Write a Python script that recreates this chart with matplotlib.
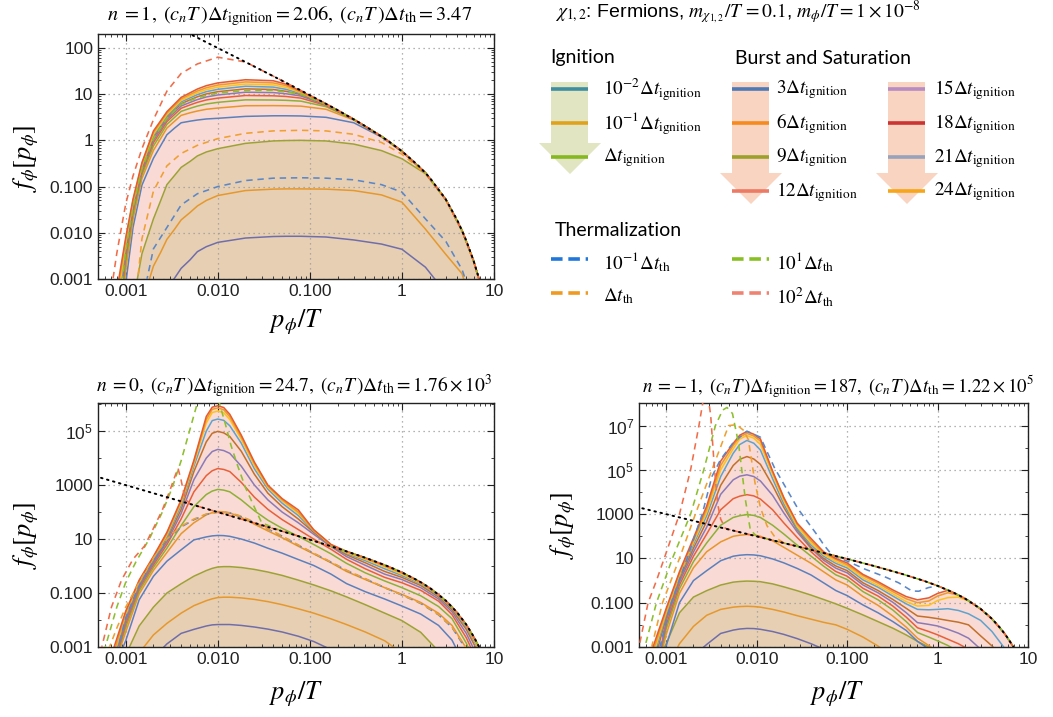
import numpy as np
import matplotlib
matplotlib.use('Agg')
import matplotlib.pyplot as plt
from matplotlib.patches import Polygon
from matplotlib.ticker import FixedLocator, FixedFormatter, NullFormatter

plt.rcParams['font.family'] = ['Liberation Sans', 'DejaVu Sans']
plt.rcParams['mathtext.fontset'] = 'stix'

# ---------------- Bose-Einstein reference (black dotted) ----------------
p_be = [0.0004, 0.0005, 0.001, 0.002, 0.005, 0.01, 0.02, 0.05, 0.1, 0.2, 0.4, 0.7, 1.0, 1.5, 2.0, 3.0, 4.0, 5.0, 6.0, 7.0, 8.0, 10.0]
f_be = [2500, 2000, 999.5, 499.5, 199.5, 99.5, 49.5, 19.5, 9.51, 4.52, 2.03, 0.987, 0.582, 0.287, 0.157, 0.0524, 0.0187, 0.00678, 0.00248, 0.000913, 0.000336, 4.5e-5]

# ---------------- Panel A : n = 1 ----------------
pA = [0.0008, 0.001, 0.0012, 0.0015, 0.002, 0.0024, 0.0028, 0.0034, 0.004, 0.005, 0.006, 0.0075, 0.01, 0.02, 0.04, 0.055, 0.08, 0.15, 0.3, 0.6, 1.0, 1.8, 3.0, 4.5, 6.0, 7.5]
A_ign_1e2 = [1e-5, 1e-5, 1e-5, 1e-5, 1e-4, 2.5e-4, 6e-4, 0.00105, 0.0017, 0.0026, 0.0039, 0.005, 0.0062, 0.0077, 0.0083, 0.0084, 0.0084, 0.0081, 0.007, 0.0057, 0.0044, 0.0018, 5e-4, 1e-4, 1e-5, 1e-5]
A_ign_1e1 = [1e-5, 1e-5, 1e-5, 3e-4, 0.0019, 0.0038, 0.0072, 0.012, 0.019, 0.0275, 0.038, 0.05, 0.064, 0.082, 0.088, 0.089, 0.089, 0.088, 0.082, 0.066, 0.046, 0.012, 0.0034, 0.0013, 2e-4, 1e-5]
A_ign_1 = [1e-5, 1e-5, 3e-4, 0.0035, 0.02, 0.05, 0.11, 0.175, 0.26, 0.35, 0.46, 0.56, 0.66, 0.86, 0.97, 0.99, 1.0, 0.97, 0.83, 0.6, 0.4, 0.19, 0.052, 0.0111, 0.00246, 5.4e-4]
A_b3 = [1e-5, 8e-4, 0.013, 0.107, 0.41, 0.77, 1.32, 1.85, 2.4, 2.6, 2.75, 2.9, 3.0, 3.3, 3.4, 3.4, 3.37, 3.15, 2.4, 1.18, 0.575, 0.197, 0.0523, 0.0112, 0.00248, 5.5e-4]
A_b6 = [2e-5, 0.00155, 0.0195, 0.149, 0.607, 1.1, 1.84, 2.6, 3.47, 3.95, 4.31, 4.7, 5.0, 5.61, 5.64, 5.6, 5.5, 4.7, 2.75, 1.21, 0.58, 0.198, 0.0524, 0.0112, 0.00248, 5.5e-4]
A_b9 = [3e-5, 0.00224, 0.0245, 0.178, 0.755, 1.34, 2.21, 3.15, 4.24, 4.93, 5.51, 6.12, 6.64, 7.52, 7.46, 7.35, 7.05, 5.35, 2.81, 1.22, 0.582, 0.198, 0.0524, 0.0112, 0.00248, 5.5e-4]
A_b12 = [5e-5, 0.00295, 0.029, 0.204, 0.89, 1.56, 2.54, 3.65, 4.94, 5.85, 6.64, 7.48, 8.2, 9.35, 9.2, 8.9, 8.2, 5.67, 2.83, 1.22, 0.582, 0.198, 0.0524, 0.0112, 0.00248, 5.5e-4]
A_b15 = [7e-5, 0.00363, 0.033, 0.225, 1.01, 1.75, 2.82, 4.07, 5.53, 6.62, 7.62, 8.68, 9.6, 11.0, 10.8, 10.2, 9.1, 5.85, 2.84, 1.22, 0.582, 0.198, 0.0524, 0.0112, 0.00248, 5.5e-4]
A_b18 = [1e-4, 0.00447, 0.0376, 0.25, 1.14, 1.96, 3.13, 4.53, 6.2, 7.52, 8.76, 10.1, 11.3, 13.0, 12.6, 11.5, 9.8, 5.96, 2.85, 1.22, 0.582, 0.198, 0.0524, 0.0112, 0.00248, 5.5e-4]
A_b21 = [1.5e-4, 0.00525, 0.0415, 0.27, 1.25, 2.13, 3.39, 4.94, 6.78, 8.3, 9.75, 11.3, 12.7, 14.8, 14.2, 12.7, 10.3, 6.03, 2.86, 1.22, 0.582, 0.198, 0.0524, 0.0112, 0.00248, 5.5e-4]
A_b24 = [2.5e-4, 0.006, 0.0453, 0.289, 1.36, 2.3, 3.63, 5.3, 7.31, 9.0, 10.7, 12.5, 14.2, 16.5, 15.8, 14.0, 10.7, 6.08, 2.86, 1.22, 0.582, 0.198, 0.0524, 0.0112, 0.00248, 5.5e-4]
A_b27 = [4e-4, 0.0069, 0.0493, 0.309, 1.48, 2.48, 3.89, 5.7, 7.89, 9.8, 11.7, 13.75, 15.7, 18.4, 17.5, 15.3, 11.0, 6.1, 2.86, 1.22, 0.582, 0.198, 0.0524, 0.0112, 0.00248, 5.5e-4]
A_b30 = [5.6e-4, 0.0079, 0.0537, 0.331, 1.6, 2.67, 4.17, 6.14, 8.51, 10.7, 12.9, 15.25, 17.5, 20.5, 19.5, 16.5, 11.6, 6.15, 2.86, 1.22, 0.582, 0.198, 0.0524, 0.0112, 0.00248, 5.5e-4]
pA_th = [0.0007, 0.0008, 0.001, 0.0012, 0.0015, 0.002, 0.0028, 0.004, 0.006, 0.01, 0.02, 0.04, 0.08, 0.15, 0.3, 0.6, 1.0, 1.8, 3.0, 4.5, 6.0, 7.5]
A_th_1e1 = [1e-5, 1e-5, 1e-5, 1e-5, 3e-4, 0.0045, 0.013, 0.04, 0.07, 0.1, 0.135, 0.152, 0.155, 0.152, 0.14, 0.11, 0.076, 0.02, 0.0065, 0.0016, 3e-4, 1e-5]
A_th_1 = [1e-5, 1e-5, 1e-5, 1e-4, 0.0074, 0.08, 0.28, 0.52, 0.78, 1.09, 1.42, 1.6, 1.65, 1.6, 1.35, 0.9, 0.5, 0.19, 0.052, 0.0111, 0.00246, 5.4e-4]
A_th_10 = [1e-5, 1e-4, 0.004, 0.035, 0.24, 1.1, 3.0, 6.0, 8.4, 10.6, 12.0, 12.1, 10.0, 5.95, 2.85, 1.22, 0.582, 0.198, 0.0524, 0.0112, 0.00248, 5.5e-4]
A_th_100 = [6e-4, 0.0036, 0.042, 0.17, 0.66, 2.8, 11.6, 28, 45, 63, 49.5, 24.5, 12.0, 6.18, 2.86, 1.22, 0.582, 0.198, 0.0524, 0.0112, 0.00248, 5.5e-4]

# ---------------- Panel B : n = 0 ----------------
pB = [0.0007, 0.001, 0.0014, 0.002, 0.0028, 0.004, 0.0055, 0.0075, 0.0087, 0.01, 0.0116, 0.0135, 0.018, 0.025, 0.035, 0.05, 0.075, 0.11, 0.17, 0.25, 0.4, 0.65, 1.0, 1.6, 2.5, 3.5, 5.0, 6.5, 8.0]
B_ign_1e2 = [1e-5, 1e-5, 1e-5, 4e-4, 0.0013, 0.0032, 0.0045, 0.006, 0.0066, 0.0068, 0.0068, 0.0068, 0.0063, 0.0055, 0.0046, 0.0036, 0.0025, 0.0016, 8e-4, 3e-4, 1e-5, 1e-5, 1e-5, 1e-5, 1e-5, 1e-5, 1e-5, 1e-5, 1e-5]
B_ign_1e1 = [1e-5, 1e-4, 6e-4, 0.0028, 0.0075, 0.018, 0.034, 0.052, 0.061, 0.068, 0.07, 0.07, 0.066, 0.058, 0.048, 0.037, 0.026, 0.018, 0.011, 0.0068, 0.0036, 0.0017, 6e-4, 1e-4, 1e-5, 1e-5, 1e-5, 1e-5, 1e-5]
B_ign_1 = [1e-5, 5e-4, 0.006, 0.03, 0.1, 0.22, 0.42, 0.68, 0.82, 0.92, 0.95, 0.95, 0.88, 0.75, 0.6, 0.45, 0.3, 0.2, 0.12, 0.072, 0.037, 0.018, 0.0095, 0.0035, 7e-4, 1e-4, 1e-5, 1e-5, 1e-5]
B_b3 = [1e-4, 0.0017, 0.056, 0.417, 1.51, 4.0, 9.3, 12.0, 13.1, 13.6, 13.4, 12.6, 10, 7.1, 4.57, 3.0, 1.74, 1.05, 0.5, 0.224, 0.112, 0.06, 0.033, 0.0166, 0.0063, 0.0018, 1.6e-4, 1e-5, 1e-5]
B_b6 = [1e-4, 0.0036, 0.093, 0.69, 3.16, 15.8, 40, 79, 95, 105, 101, 93, 63, 35.5, 20, 11.2, 5.4, 2.82, 1.32, 0.63, 0.316, 0.158, 0.089, 0.0447, 0.0178, 0.0063, 9e-4, 1e-4, 1e-5]
B_b9 = [1e-4, 0.0054, 0.12, 0.89, 4.57, 31.6, 158, 447, 600, 692, 650, 562, 282, 112, 50, 25, 12.6, 6.3, 2.82, 1.26, 0.56, 0.28, 0.158, 0.079, 0.0316, 0.0112, 0.0014, 2e-4, 1e-5]
B_b12 = [1e-4, 0.0072, 0.148, 1.1, 6.2, 56, 560, 2240, 3400, 4100, 3800, 3160, 1260, 355, 126, 52.5, 22.4, 10, 4.17, 1.78, 0.79, 0.38, 0.24, 0.126, 0.05, 0.0158, 0.0022, 3.2e-4, 1e-5]
B_b15 = [1.3e-4, 0.0091, 0.17, 1.29, 7.8, 89, 1580, 1.0e4, 1.75e4, 2.1e4, 1.9e4, 1.5e4, 5000, 1000, 282, 100, 40, 15.1, 5.25, 2.24, 1.07, 0.5, 0.316, 0.158, 0.06, 0.02, 0.0032, 5e-4, 1e-4]
B_b18 = [1.6e-4, 0.0112, 0.2, 1.51, 9.5, 126, 3160, 4.0e4, 8.3e4, 9.8e4, 8.6e4, 6.3e4, 1.78e4, 2510, 500, 158, 55, 17.8, 5.6, 2.63, 1.32, 0.63, 0.38, 0.19, 0.071, 0.024, 0.0045, 8e-4, 1.3e-4]
B_b21 = [2e-4, 0.0135, 0.224, 1.74, 11.5, 178, 5000, 1.0e5, 2.45e5, 2.8e5, 2.5e5, 1.58e5, 3.55e4, 3980, 708, 214, 74, 20, 5.9, 2.95, 1.58, 0.79, 0.447, 0.219, 0.079, 0.028, 0.0056, 0.00112, 2e-4]
B_b24 = [2.5e-4, 0.0166, 0.251, 2.0, 14.1, 224, 6300, 2.0e5, 4.9e5, 5.5e5, 4.8e5, 2.7e5, 5.0e4, 5250, 832, 263, 89, 20.9, 6.0, 3.16, 1.78, 0.93, 0.5, 0.234, 0.085, 0.030, 0.0063, 0.00126, 2.5e-4]
B_b27 = [3e-4, 0.019, 0.275, 2.14, 15.8, 251, 7240, 2.7e5, 6.4e5, 7.24e5, 6.2e5, 3.4e5, 6.0e4, 6300, 912, 288, 100, 21.4, 6.17, 3.39, 1.91, 1.0, 0.55, 0.245, 0.087, 0.031, 0.0066, 0.0014, 3.2e-4]
B_b30 = [5e-4, 0.0214, 0.302, 2.29, 17.8, 288, 8300, 3.5e5, 7.7e5, 8.7e5, 7.5e5, 4.2e5, 7.1e4, 7100, 1000, 316, 120, 22.4, 6.3, 3.52, 2.03, 1.09, 0.582, 0.253, 0.0894, 0.0311, 0.00678, 0.0015, 3.36e-4]
B_th_1e1 = [1e-4, 0.012, 0.2, 1.6, 9, 28, 52, 82, 92, 98, 97, 93, 68, 41, 23.5, 12.8, 5.9, 2.95, 1.38, 0.69, 0.335, 0.158, 0.084, 0.041, 0.0155, 0.0053, 8e-4, 1e-4, 1e-5]
pB_th1 = [0.00065, 0.0008, 0.001, 0.0014, 0.002, 0.0028, 0.004, 0.0055, 0.0075, 0.01, 0.0135, 0.018, 0.025, 0.035, 0.05, 0.075, 0.11, 0.17, 0.25, 0.4, 0.65, 1.0, 1.6, 2.5, 3.5, 5.0, 6.5]
B_th_1 = [8e-4, 0.005, 0.03, 0.25, 2.0, 10, 30, 55, 85, 100, 95, 70, 42, 24, 13, 6.0, 3.0, 1.4, 0.7, 0.34, 0.16, 0.085, 0.042, 0.016, 0.0055, 9e-4, 1e-4]
pB_th10 = [0.00055, 0.0006, 0.0008, 0.001, 0.0013, 0.0018, 0.0025, 0.0032, 0.004, 0.005, 0.006, 0.0075, 0.009, 0.0104, 0.012, 0.0139, 0.0165, 0.02, 0.025, 0.03, 0.05, 0.1, 0.2, 0.4, 0.7, 1.0, 1.5, 2.0, 3.0, 4.0, 5.0, 6.0, 7.0]
B_th_10 = [1e-4, 0.001, 0.03, 0.25, 1.5, 10, 100, 800, 8000, 1.2e5, 1.1e6, 4e6, 3e6, 1.1e6, 2e5, 3e4, 5000, 800, 150, 40, 19.5, 9.51, 4.52, 2.03, 0.987, 0.582, 0.287, 0.157, 0.0524, 0.0187, 0.00678, 0.00248, 0.000913]
pB_th100 = [0.0005, 0.00055, 0.0007, 0.0009, 0.0012, 0.0016, 0.002, 0.0025, 0.003, 0.0034, 0.0037, 0.004, 0.0044, 0.005, 0.007, 0.01, 0.02, 0.05, 0.1, 0.2, 0.4, 0.7, 1.0, 1.5, 2.0, 3.0, 4.0, 5.0, 6.0, 7.0]
B_th_100 = [1e-4, 0.001, 0.03, 0.3, 1.8, 5.5, 25, 120, 600, 2000, 4200, 1500, 320, 200, 143, 99.5, 49.5, 19.5, 9.51, 4.52, 2.03, 0.987, 0.582, 0.287, 0.157, 0.0524, 0.0187, 0.00678, 0.00248, 0.000913]

# ---------------- Panel C : n = -1 ----------------
pC = [0.0005, 0.0007, 0.001, 0.0014, 0.002, 0.0028, 0.004, 0.0055, 0.0065, 0.0078, 0.0093, 0.011, 0.015, 0.02, 0.028, 0.04, 0.055, 0.075, 0.1, 0.15, 0.22, 0.32, 0.45, 0.6, 0.8, 1.0, 1.3, 1.7, 2.2, 3.0, 4.0, 5.5, 7.0, 8.6]
C_ign_1e2 = [1e-5, 1e-5, 1e-5, 1e-5, 4e-4, 0.0013, 0.0041, 0.0058, 0.0065, 0.0069, 0.0068, 0.0063, 0.005, 0.0037, 0.0024, 0.0014, 8e-4, 3e-4, 1e-5, 1e-5, 1e-5, 1e-5, 1e-5, 1e-5, 1e-5, 1e-5, 1e-5, 1e-5, 1e-5, 1e-5, 1e-5, 1e-5, 1e-5, 1e-5]
C_ign_1e1 = [1e-5, 1e-5, 1e-4, 0.0014, 0.0085, 0.027, 0.05, 0.063, 0.067, 0.069, 0.067, 0.063, 0.05, 0.038, 0.026, 0.018, 0.013, 0.01, 0.0063, 0.0028, 0.0011, 3e-4, 1e-5, 1e-5, 1e-5, 1e-5, 1e-5, 1e-5, 1e-5, 1e-5, 1e-5, 1e-5, 1e-5, 1e-5]
C_ign_1 = [1e-5, 1e-4, 0.0014, 0.035, 0.18, 0.35, 0.63, 0.85, 0.91, 0.95, 0.93, 0.89, 0.71, 0.52, 0.35, 0.22, 0.14, 0.089, 0.056, 0.028, 0.014, 0.0071, 0.0035, 0.0018, 0.001, 4e-4, 1e-4, 1e-5, 1e-5, 1e-5, 1e-5, 1e-5, 1e-5, 1e-5]
C_b3 = [1e-5, 1e-5, 0.00115, 0.1, 1.0, 2.8, 7.9, 12.6, 14.0, 14.8, 14.4, 13.2, 9.5, 6.3, 3.55, 1.78, 0.79, 0.355, 0.21, 0.079, 0.035, 0.0141, 0.0056, 0.0018, 8e-4, 3e-4, 1e-5, 1e-5, 1e-5, 1e-5, 1e-5, 1e-5, 1e-5, 1e-5]
C_b6 = [1e-5, 1e-5, 0.0037, 0.263, 3.8, 20, 56, 100, 112, 120, 115, 100, 63, 31.6, 14.1, 6.0, 2.5, 1.07, 0.63, 0.19, 0.076, 0.025, 0.0079, 0.0025, 0.00117, 6.3e-4, 1e-4, 1e-5, 1e-5, 1e-5, 1e-5, 1e-5, 1e-5, 1e-5]
C_b9 = [1e-5, 1e-5, 0.0066, 0.427, 7.2, 50, 316, 708, 850, 955, 880, 708, 316, 126, 40, 12.6, 4.47, 1.82, 1.12, 0.316, 0.135, 0.047, 0.0141, 0.0045, 0.0028, 0.0019, 0.00117, 6.3e-4, 1e-4, 1e-5, 1e-5, 1e-5, 1e-5, 1e-5]
C_b12 = [1e-5, 1e-5, 0.01, 0.63, 12.6, 126, 1580, 5000, 6500, 7600, 6700, 4800, 1580, 398, 89, 20, 6.3, 2.57, 1.58, 0.447, 0.2, 0.0708, 0.0224, 0.0074, 0.005, 0.00355, 0.00224, 0.0014, 7.9e-4, 2.5e-4, 1e-5, 1e-5, 1e-5, 1e-5]
C_b15 = [1e-5, 1e-5, 0.0155, 0.87, 19.5, 257, 7900, 3.55e4, 5.2e4, 6.0e4, 5.0e4, 3.16e4, 7100, 1120, 158, 28.2, 8.3, 3.63, 2.24, 0.63, 0.28, 0.105, 0.0355, 0.0126, 0.0105, 0.0089, 0.0063, 0.0042, 0.0025, 7.9e-4, 1.6e-4, 1e-5, 1e-5, 1e-5]
C_b18 = [1e-5, 1e-4, 0.0219, 1.15, 28.8, 468, 2.0e4, 1.58e5, 3.0e5, 4.0e5, 3.1e5, 1.78e5, 2.0e4, 2000, 200, 31.6, 10, 4.57, 2.82, 0.79, 0.355, 0.141, 0.056, 0.0251, 0.0219, 0.0191, 0.0158, 0.0132, 0.01, 0.00316, 0.00112, 2.5e-4, 1e-5, 1e-5]
C_b21 = [1e-5, 2e-4, 0.0316, 1.55, 42.7, 851, 5.0e4, 5.6e5, 1.4e6, 2.14e6, 1.6e6, 7.9e5, 4.0e4, 2820, 224, 39.8, 12.6, 6.0, 3.72, 1.07, 0.5, 0.2, 0.089, 0.05, 0.0479, 0.05, 0.0537, 0.0447, 0.0316, 0.0158, 0.005, 8.9e-4, 1e-4, 1e-5]
C_b24 = [1e-5, 3.2e-4, 0.038, 1.82, 53.7, 1200, 1.0e5, 8.9e5, 2.5e6, 3.55e6, 2.7e6, 1.41e6, 6.3e4, 3980, 282, 50, 15.1, 7.2, 4.47, 1.32, 0.6, 0.251, 0.112, 0.0708, 0.0759, 0.126, 0.17, 0.178, 0.12, 0.0513, 0.0182, 0.004, 8.9e-4, 1.8e-4]
C_b27 = [1e-5, 5e-4, 0.0468, 2.14, 66, 1700, 1.58e5, 1.26e6, 3.1e6, 4.47e6, 3.4e6, 2.0e6, 7.9e4, 5000, 355, 63, 17.8, 8.9, 5.25, 1.66, 0.76, 0.316, 0.151, 0.1, 0.12, 0.2, 0.282, 0.219, 0.124, 0.0525, 0.0186, 0.0041, 9.1e-4, 1.8e-4]
C_b30 = [3.2e-5, 7.9e-4, 0.056, 2.51, 83, 2340, 2.5e5, 1.58e6, 3.7e6, 5.4e6, 4.1e6, 2.5e6, 8.9e4, 5600, 398, 79, 20, 10, 6.3, 1.9, 0.89, 0.38, 0.19, 0.135, 0.166, 0.263, 0.363, 0.224, 0.125, 0.0524, 0.0187, 0.00411, 9.1e-4, 1.8e-4]
pC_th1 = [0.0008, 0.00085, 0.00114, 0.0017, 0.0025, 0.0032, 0.004, 0.0055, 0.0078, 0.011, 0.0158, 0.0285, 0.047, 0.055, 0.065, 0.075, 0.1, 0.16, 0.25, 0.37, 0.52, 0.62, 0.79, 1.0, 1.3, 1.7, 2.2, 3.0, 4.0, 5.5, 7.0]
C_th_1e1 = [3e-4, 0.001, 0.1, 10, 1000, 5e4, 3e5, 1.7e6, 5.6e6, 3e6, 1.2e5, 1800, 110, 42, 18, 12, 7.6, 3.2, 1.6, 0.8, 0.34, 0.33, 0.48, 0.58, 0.375, 0.224, 0.125, 0.0524, 0.0187, 0.00411, 0.000913]
pC_th2 = [0.00065, 0.00069, 0.00091, 0.0014, 0.0021, 0.0032, 0.0049, 0.006, 0.0072, 0.0081, 0.0096, 0.011, 0.013, 0.016, 0.02, 0.05, 0.1, 0.2, 0.4, 0.7, 1.0, 1.5, 2.0, 3.0, 4.0, 5.0, 6.0, 7.0]
C_th_1 = [3e-4, 0.001, 0.1, 10, 1000, 1e5, 1e7, 1.1e7, 6e6, 2.3e6, 2.5e4, 2000, 300, 90, 50, 19.5, 9.51, 4.52, 2.03, 0.987, 0.582, 0.287, 0.157, 0.0524, 0.0187, 0.00678, 0.00248, 0.000913]
pC_th3 = [0.00055, 0.00058, 0.00078, 0.00117, 0.00186, 0.0026, 0.0035, 0.0042, 0.0047, 0.0054, 0.0063, 0.0075, 0.0085, 0.01, 0.02, 0.05, 0.1, 0.2, 0.4, 0.7, 1.0, 1.5, 2.0, 3.0, 4.0, 5.0, 6.0, 7.0]
C_th_10 = [5e-4, 0.001, 0.1, 10, 1000, 1e5, 1e7, 5e7, 6.6e7, 3.5e7, 1.6e6, 4600, 200, 99.5, 49.5, 19.5, 9.51, 4.52, 2.03, 0.987, 0.582, 0.287, 0.157, 0.0524, 0.0187, 0.00678, 0.00248, 0.000913]
pC_th4 = [0.00048, 0.0005, 0.00063, 0.00078, 0.00095, 0.0014, 0.00186, 0.0023, 0.0026, 0.0029, 0.0031, 0.0034, 0.0037, 0.004, 0.0045, 0.0055, 0.0078, 0.011, 0.02, 0.05, 0.1, 0.2, 0.4, 0.7, 1.0, 1.5, 2.0, 3.0, 4.0, 5.0, 6.0, 7.0]
C_th_100 = [5e-4, 0.001, 0.1, 1.0, 10, 1000, 1e5, 1e7, 2e8, 2e8, 3e7, 1.4e5, 3000, 600, 230, 181, 128, 90.4, 49.5, 19.5, 9.51, 4.52, 2.03, 0.987, 0.582, 0.287, 0.157, 0.0524, 0.0187, 0.00678, 0.00248, 0.000913]

# ---------------- tick labels ----------------
x_ticks = [0.001, 0.01, 0.1, 1, 10]
x_labels = ['0.001', '0.010', '0.100', '1', '10']
yA_ticks = [0.001, 0.01, 0.1, 1, 10, 100]
yA_labels = ['0.001', '0.010', '0.100', '1', '10', '100']
yB_ticks = [0.001, 0.1, 10, 1000, 1e5]
yB_labels = ['0.001', '0.100', '10', '1000', r'$\mathregular{10^5}$']
yC_ticks = [0.001, 0.1, 10, 1000, 1e5, 1e7]
yC_labels = ['0.001', '0.100', '10', '1000', r'$\mathregular{10^5}$', r'$\mathregular{10^7}$']

# ---------------- colours ----------------
col_ign = ['#6F6EAB', '#E6982C', '#9DA235']
col_burst = ['#5B80BE', '#E8962A', '#8DB035', '#E8603A', '#8B7AB8', '#C2702A', '#5FA2CE', '#FFC21A', '#EE9A2C', '#E45A32']
col_th = ['#5B87C8', '#EFA030', '#8DBF2E', '#F06D4A']
pink = '#F9DAD4'
tan = '#E7CFB3'

W, H = 1053, 717
fig = plt.figure(figsize=(W / 100, H / 100), dpi=100)


def add_ax(l, t, r, b):
    return fig.add_axes([l / W, 1 - b / H, (r - l) / W, (b - t) / H])


def style(ax, ylim, yt, yl, yminor):
    ax.set_xscale('log')
    ax.set_yscale('log')
    ax.set_xlim(5e-4, 10)
    ax.set_ylim(*ylim)
    ax.xaxis.set_major_locator(FixedLocator(x_ticks))
    ax.xaxis.set_major_formatter(FixedFormatter(x_labels))
    ax.xaxis.set_minor_locator(FixedLocator([k * 10.0 ** e for e in range(-4, 1) for k in range(2, 10)]))
    ax.xaxis.set_minor_formatter(NullFormatter())
    ax.yaxis.set_major_locator(FixedLocator(yt))
    ax.yaxis.set_major_formatter(FixedFormatter(yl))
    ax.yaxis.set_minor_locator(FixedLocator(yminor))
    ax.yaxis.set_minor_formatter(NullFormatter())
    ax.tick_params(which='both', direction='in', top=True, right=True, labelsize=12.5, colors='#222222')
    ax.tick_params(which='major', length=5, width=0.8)
    ax.tick_params(which='minor', length=2.5, width=0.6)
    ax.set_axisbelow(True)
    ax.grid(True, which='major', ls=(0, (1, 3)), color='#9a9a9a', lw=0.9)
    for s in ax.spines.values():
        s.set_linewidth(1.0)
        s.set_color('#222222')


def draw_panel(ax, p, ign, burst, th_list):
    env = np.max(np.vstack([np.array(b) for b in burst]), axis=0)
    ax.fill_between(p, 1e-9, env, color=pink, lw=0, zorder=0.2)
    ax.fill_between(p, 1e-9, ign[2], color=tan, lw=0, zorder=0.3)
    for y, c in zip(ign, col_ign):
        ax.plot(p, y, color=c, lw=1.1, zorder=2, solid_joinstyle='round')
    for y, c in zip(burst, col_burst):
        ax.plot(p, y, color=c, lw=1.1, zorder=2, solid_joinstyle='round')
    for (px, y), c in zip(th_list, col_th):
        ax.plot(px, y, color=c, lw=1.15, ls=(0, (4, 3)), zorder=3)
    ax.plot(p_be, f_be, color='black', lw=1.4, ls=(0, (0.8, 2.4)), zorder=4, dash_capstyle='round')


axA = add_ax(98, 34, 494, 279)
axB = add_ax(98, 403, 494, 647)
axC = add_ax(639, 403, 1028, 647)

style(axA, (1e-3, 200), yA_ticks, yA_labels, [k * 10.0 ** e for e in range(-3, 3) for k in range(2, 10)])
style(axB, (1e-3, 1.1e6), yB_ticks, yB_labels, [0.01, 1, 100, 1e4, 1e6])
style(axC, (1e-3, 1.05e8), yC_ticks, yC_labels, [0.01, 1, 100, 1e4, 1e6, 1e8])

draw_panel(axA, pA, [A_ign_1e2, A_ign_1e1, A_ign_1],
           [A_b3, A_b6, A_b9, A_b12, A_b15, A_b18, A_b21, A_b24, A_b27, A_b30],
           [(pA_th, A_th_1e1), (pA_th, A_th_1), (pA_th, A_th_10), (pA_th, A_th_100)])
draw_panel(axB, pB, [B_ign_1e2, B_ign_1e1, B_ign_1],
           [B_b3, B_b6, B_b9, B_b12, B_b15, B_b18, B_b21, B_b24, B_b27, B_b30],
           [(pB, B_th_1e1), (pB_th1, B_th_1), (pB_th10, B_th_10), (pB_th100, B_th_100)])
draw_panel(axC, pC, [C_ign_1e2, C_ign_1e1, C_ign_1],
           [C_b3, C_b6, C_b9, C_b12, C_b15, C_b18, C_b21, C_b24, C_b27, C_b30],
           [(pC_th1, C_th_1e1), (pC_th2, C_th_1), (pC_th3, C_th_10), (pC_th4, C_th_100)])

# ---------------- overlay for text / legend ----------------
ov = fig.add_axes([0, 0, 1, 1])
ov.set_xlim(0, W)
ov.set_ylim(H, 0)
ov.axis('off')

ov.text(290, 16, r'$n\;=1,\;(c_n T\,)\Delta t_{\mathrm{ignition}}=2.06,\;(c_n T\,)\Delta t_{\mathrm{th}}=3.47$',
        ha='center', va='center', fontsize=14.6)
ov.text(294, 386, r'$n\;=0,\;(c_n T\,)\Delta t_{\mathrm{ignition}}=24.7,\;(c_n T\,)\Delta t_{\mathrm{th}}=1.76\times10^3$',
        ha='center', va='center', fontsize=14)
ov.text(838, 387, r'$n\;=-\,1,\;(c_n T\,)\Delta t_{\mathrm{ignition}}=187,\;(c_n T\,)\Delta t_{\mathrm{th}}=1.22\times10^5$',
        ha='center', va='center', fontsize=13.5)

lfs = 19
for (x, y) in [(296, 322), (296, 694), (837, 694)]:
    ov.text(x, y, r'$p_\phi/T$', ha='center', va='center', fontsize=lfs)
for (x, y) in [(26, 158), (26, 535), (563, 525)]:
    ov.text(x, y, r'$f_\phi[p_\phi]$', ha='center', va='center', fontsize=lfs, rotation=90)

ov.text(555, 13, r'$\chi_{1,2}$: Fermions, $m_{\chi_{1,2}}/T\,=0.1$, $m_\phi/T=1\times10^{-8}$',
        ha='left', va='center', fontsize=14)


def arrow(x0, x1, hx0, hx1, ytop, yhead, ytip, color):
    xm = (hx0 + hx1) / 2
    ov.add_patch(Polygon([(x0, ytop), (x1, ytop), (x1, yhead), (hx1, yhead), (xm, ytip),
                          (hx0, yhead), (x0, yhead)], closed=True, color=color, lw=0))


arrow(551, 588, 539, 601, 82, 143, 174, '#E1E5C1')
arrow(732, 769, 720, 782, 82, 173, 204, '#F9D4C1')
arrow(888, 925, 876, 938, 82, 173, 204, '#F9D4C1')

hfs = 14
hfam = ['Lato', 'DejaVu Sans']
ov.text(550, 58, 'Ignition', ha='left', va='center', fontsize=hfs, family=hfam)
ov.text(735, 58, 'Burst and Saturation', ha='left', va='center', fontsize=hfs, family=hfam)
ov.text(555, 230, 'Thermalization', ha='left', va='center', fontsize=hfs, family=hfam)

leg_fs = 13.8
ign_labels = [r'$10^{-2}\Delta t_{\mathrm{ignition}}$', r'$10^{-1}\Delta t_{\mathrm{ignition}}$', r'$\Delta t_{\mathrm{ignition}}$']
ign_leg_cols = ['#3F8DA0', '#E0A21C', '#85B81E']
for i, (lab, c) in enumerate(zip(ign_labels, ign_leg_cols)):
    y = [89, 123, 157][i]
    ov.plot([551, 588], [y, y], color=c, lw=2.6, solid_capstyle='butt')
    ov.text(603, y + 1, lab, ha='left', va='center', fontsize=leg_fs)

burst_labels = [r'$3\Delta t_{\mathrm{ignition}}$', r'$6\Delta t_{\mathrm{ignition}}$', r'$9\Delta t_{\mathrm{ignition}}$', r'$12\Delta t_{\mathrm{ignition}}$',
                r'$15\Delta t_{\mathrm{ignition}}$', r'$18\Delta t_{\mathrm{ignition}}$', r'$21\Delta t_{\mathrm{ignition}}$', r'$24\Delta t_{\mathrm{ignition}}$']
burst_leg_cols = ['#4E79B7', '#F58A1F', '#9BA12B', '#EC7A64', '#B88BC2', '#CC3333', '#98A2BA', '#F7A619']
for i, (lab, c) in enumerate(zip(burst_labels, burst_leg_cols)):
    y = [89, 123, 157, 191][i % 4]
    x0 = 732 if i < 4 else 888
    xt = 776 if i < 4 else 934
    ov.plot([x0, x0 + 37], [y, y], color=c, lw=2.6, solid_capstyle='butt')
    ov.text(xt, y + 1, lab, ha='left', va='center', fontsize=leg_fs)

th_labels = [r'$10^{-1}\Delta t_{\mathrm{th}}$', r'$\Delta t_{\mathrm{th}}$', r'$10^{1}\Delta t_{\mathrm{th}}$', r'$10^{2}\Delta t_{\mathrm{th}}$']
th_leg_cols = ['#1F77DB', '#F09A20', '#88C021', '#F08272']
th_pos = [(551, 603, 259), (551, 603, 293), (732, 776, 259), (732, 776, 293)]
for lab, c, (x0, xt, y) in zip(th_labels, th_leg_cols, th_pos):
    ov.plot([x0, x0 + 37], [y, y], color=c, lw=2.6, ls=(0, (3.2, 1.6)), dash_capstyle='butt')
    ov.text(xt, y + 3, lab, ha='left', va='center', fontsize=leg_fs)

fig.savefig('out.png', dpi=100)
